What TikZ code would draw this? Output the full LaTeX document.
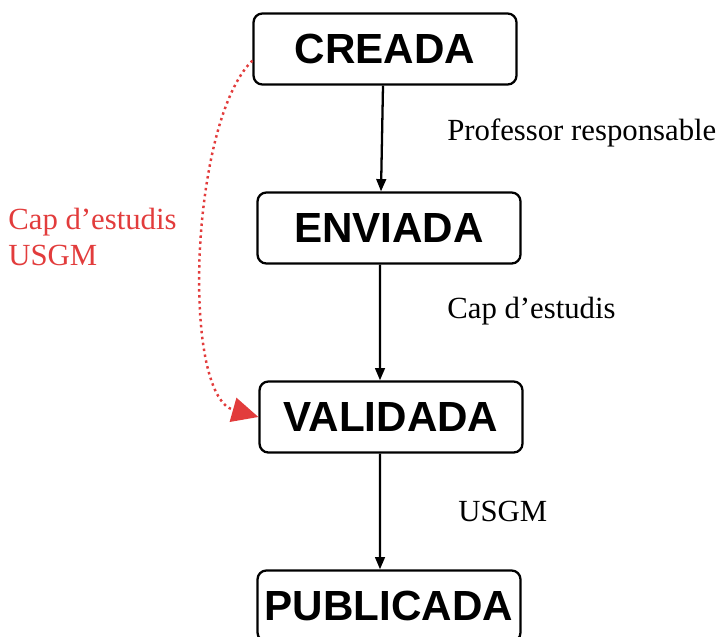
\documentclass[tikz,border=0pt]{standalone}
\usepackage{fontspec}
\setmainfont{Liberation Serif}
\setsansfont{Liberation Sans}
\usetikzlibrary{arrows.meta}
\definecolor{estatred}{RGB}{226,60,60}

\begin{document}
\begin{tikzpicture}[x=0.02cm, y=-0.02cm,
	estat/.style={draw, line width=1.3pt, rounded corners=5pt, fill=white,
		minimum width=5.26cm, minimum height=1.42cm, inner sep=0pt,
		font=\sffamily\bfseries\fontsize{24}{28}\selectfont},
	pas/.style={-{Triangle[length=7pt, width=5.5pt]}, line width=1.3pt},
	etiqueta/.style={anchor=west, inner sep=0pt, font=\fontsize{17.5}{20}\selectfont}]
	\useasboundingbox (0,0) rectangle (727,636);

	%estats
	\node[estat] (creada) at (385, 49) {CREADA};
	\node[estat] (enviada) at (389, 228) {ENVIADA};
	\node[estat] (validada) at (391, 417) {VALIDADA};
	\node[estat] (publicada) at (389, 606) {PUBLICADA};

	%fletxes
	\draw[pas] ([xshift=-0.04cm]creada.south) -- ([xshift=-0.16cm]enviada.north);
	\draw[pas] ([xshift=-0.18cm]enviada.south) -- ([xshift=-0.22cm]validada.north);
	\draw[pas] ([xshift=-0.22cm]validada.south) -- ([xshift=-0.18cm]publicada.north);

	%qui ho fa
	\node[etiqueta] (prof) at (447, 133) {Professor responsable};
	\node[etiqueta] (cap) at (447, 311) {Cap d’estudis};
	\node[etiqueta] (usgm) at (458, 511) {USGM};

	%drecera
	\draw[estatred, dotted, line width=1.4pt, -{Triangle[length=15pt, width=14pt]}]
	(creada.185) .. controls +(-62, 60) and +(-78, -22) .. (validada.west);
	\node[etiqueta, estatred, align=left] (drecera) at (8, 237) {Cap d’estudis\\USGM};

\end{tikzpicture}
\end{document}
